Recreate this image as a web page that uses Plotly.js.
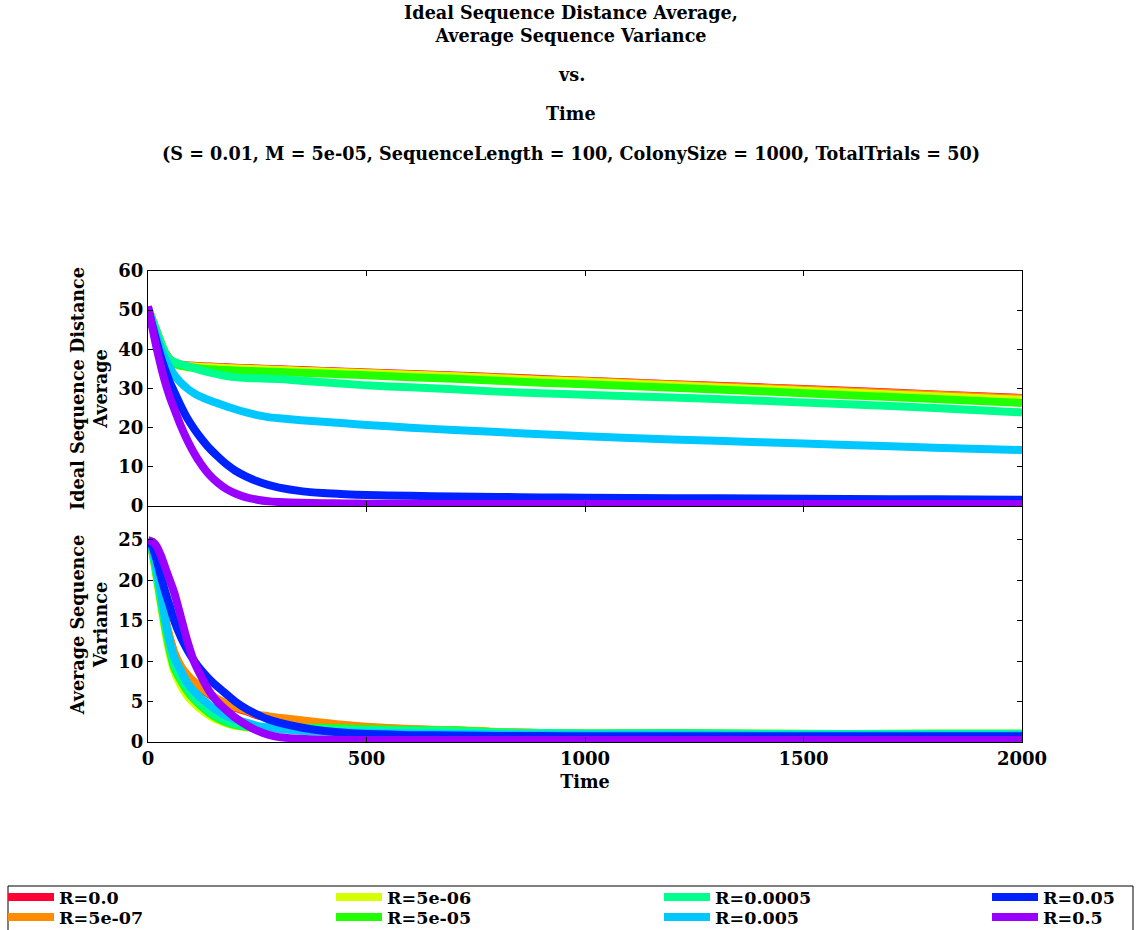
<!DOCTYPE html>
<html>
<head>
<meta charset="utf-8">
<script src="https://cdn.plot.ly/plotly-3.0.1.min.js"></script>
<style>
  html, body { margin: 0; padding: 0; background: #fff; }
  #chart { width: 1142px; height: 930px; }
</style>
</head>
<body>
<div id="chart"></div>
<script>
// Sample times shared by every series
const time = [0, 10, 20, 30, 40, 50, 60, 75, 90, 105, 120, 140, 160, 180, 200, 225, 250, 275, 300,
              350, 400, 450, 500, 600, 700, 800, 900, 1000, 1200, 1400, 1600, 1800, 2000];

const seriesNames = ['R=0.0', 'R=5e-07', 'R=5e-06', 'R=5e-05', 'R=0.0005', 'R=0.005', 'R=0.05', 'R=0.5'];
const seriesColors = ['#ff0035', '#ff8c00', '#d4ff00', '#22ff00', '#00ff8c', '#00c8ff', '#0022ff', '#9900ff'];

// Ideal sequence distance average, one list per recombination rate
const distR0     = [50.5,47.5,44.5,41.5,39.0,37.5,36.6,36.1,35.9,35.8,35.7,35.6,35.5,35.4,35.3,35.2,35.1,35.0,34.9,34.7,34.5,34.3,34.1,33.7,33.3,32.9,32.4,32.0,31.1,30.3,29.4,28.5,27.6];
const distR5e7   = [50.5,47.4,44.4,41.4,38.9,37.4,36.5,36.0,35.8,35.7,35.6,35.5,35.4,35.3,35.2,35.1,35.0,34.9,34.8,34.6,34.4,34.2,34.0,33.6,33.2,32.8,32.3,31.9,31.0,30.2,29.3,28.4,27.5];
const distR5e6   = [50.5,47.4,44.3,41.3,38.8,37.3,36.4,35.9,35.7,35.6,35.5,35.4,35.3,35.2,35.1,35.0,34.9,34.8,34.7,34.5,34.3,34.1,33.9,33.5,33.1,32.6,32.1,31.7,30.8,29.9,29.0,28.0,27.1];
const distR5e5   = [50.5,47.4,44.3,41.3,38.8,37.2,36.3,35.8,35.5,35.3,35.1,34.9,34.8,34.7,34.6,34.5,34.4,34.3,34.2,34.0,33.8,33.6,33.4,32.9,32.5,32.0,31.5,31.1,30.2,29.3,28.3,27.3,26.3];
const distR5e4   = [50.5,47.5,44.5,41.5,39.0,37.5,36.8,36.2,35.7,35.2,34.7,34.1,33.6,33.2,32.9,32.7,32.6,32.5,32.4,32.0,31.6,31.2,30.8,30.3,29.8,29.2,28.8,28.4,27.7,26.9,26.0,25.0,23.9];
const distR5e3   = [50.5,46.5,43.0,40.0,37.5,35.3,33.5,31.5,30.0,28.8,27.9,27.0,26.2,25.4,24.7,23.9,23.2,22.7,22.4,21.9,21.5,21.1,20.7,20.0,19.4,18.9,18.3,17.8,17.0,16.3,15.6,14.9,14.3];
const distR5e2   = [50.5,46.0,41.8,37.8,34.5,31.6,29.2,25.6,22.4,19.8,17.5,14.8,12.6,10.6,9.0,7.5,6.3,5.4,4.7,3.8,3.3,3.0,2.8,2.6,2.4,2.3,2.2,2.1,2.0,1.9,1.8,1.7,1.6];
const distR5e1   = [51.0,45.5,40.2,35.5,31.3,27.8,24.8,20.5,16.8,13.6,10.9,8.0,5.9,4.3,3.2,2.2,1.6,1.2,1.0,0.8,0.7,0.65,0.6,0.6,0.6,0.55,0.55,0.55,0.5,0.5,0.5,0.5,0.5];

// Average sequence variance, one list per recombination rate
const varR0      = [25,23.6,20.8,17.8,15.0,12.8,11.0,9.3,8.2,7.4,6.7,5.9,5.2,4.6,4.2,3.8,3.3,3.1,2.9,2.6,2.3,2.0,1.8,1.55,1.4,1.2,1.1,1.0,1.0,1.0,0.95,0.95,0.9];
const varR5e7    = [25,23.6,20.9,17.9,15.1,12.9,11.1,9.4,8.3,7.5,6.8,6.0,5.3,4.7,4.3,3.9,3.4,3.2,3.0,2.7,2.4,2.1,1.9,1.6,1.45,1.25,1.1,1.05,1.0,1.0,1.0,1.0,0.95];
const varR5e6    = [25,23.3,20.2,16.8,13.5,10.8,8.8,7.0,5.7,4.8,4.1,3.3,2.7,2.3,2.0,1.8,1.7,1.7,1.7,1.65,1.6,1.55,1.5,1.45,1.4,1.2,1.1,1.05,1.05,1.0,1.0,1.0,1.0];
const varR5e5    = [25,23.5,20.5,17.2,14.0,11.3,9.2,7.6,6.3,5.3,4.5,3.6,2.9,2.4,2.1,1.9,1.8,1.8,1.8,1.8,1.75,1.7,1.6,1.5,1.45,1.2,1.1,1.05,1.1,1.05,1.0,1.05,1.05];
const varR5e4    = [25,23.6,20.7,17.5,14.4,11.8,9.6,7.9,6.6,5.5,4.7,3.8,3.1,2.6,2.2,1.9,1.8,1.7,1.7,1.65,1.6,1.55,1.5,1.4,1.35,1.15,1.1,1.05,1.05,1.0,1.0,1.0,1.0];
const varR5e3    = [25,23.8,21.3,18.3,15.0,12.4,10.5,8.8,7.3,6.3,5.5,4.6,3.8,3.2,2.8,2.4,2.0,1.8,1.6,1.4,1.3,1.2,1.15,1.05,1.0,0.95,0.9,0.9,0.9,0.85,0.85,0.85,0.85];
const varR5e2    = [25,24.2,22.5,20.4,18.5,16.8,15.0,13.0,11.4,10.1,9.0,7.8,6.8,5.9,5.0,4.1,3.4,2.8,2.4,1.8,1.4,1.15,1.0,0.85,0.8,0.75,0.75,0.7,0.7,0.7,0.7,0.7,0.7];
const varR5e1    = [25,24.8,24.2,23.0,21.5,20.0,18.5,15.5,12.5,10.0,8.3,6.3,4.9,3.9,3.0,2.1,1.4,0.9,0.6,0.4,0.3,0.25,0.25,0.25,0.25,0.25,0.25,0.25,0.25,0.25,0.25,0.25,0.25];

const distSeries = [distR0, distR5e7, distR5e6, distR5e5, distR5e4, distR5e3, distR5e2, distR5e1];
const varSeries  = [varR0, varR5e7, varR5e6, varR5e5, varR5e4, varR5e3, varR5e2, varR5e1];

// Page and plot-area geometry (plot area spans 148..1022 px across, 271..742 px down)
const W = 1142, H = 930;
const L = 148, R = 120, T = 271, B = 188;
const plotW = W - L - R, plotH = H - T - B;
const px2paperX = px => (px - L) / plotW;
const py2paperY = py => (H - B - py) / plotH;

const FONT = 'DejaVu Serif';
const boldFont = (size) => ({ family: FONT, size: size, color: 'black', weight: 'bold' });

// Legend laid out column by column: four columns of two entries, one legend per entry
const legendKey = i => (i === 0 ? 'legend' : 'legend' + (i + 1));
const legendCols = [8, 336, 664, 992];
const legendRows = [897, 917];

const lineStyle = color => ({ color: color, width: 8, shape: 'spline', smoothing: 0.6 });

const traces = [];
seriesNames.forEach((name, i) => {
  traces.push({
    type: 'scatter', mode: 'lines', name: name,
    x: time, y: distSeries[i], xaxis: 'x', yaxis: 'y',
    line: lineStyle(seriesColors[i]),
    legend: legendKey(i),
    hoverinfo: 'skip'
  });
});
seriesNames.forEach((name, i) => {
  traces.push({
    type: 'scatter', mode: 'lines', name: name,
    x: time, y: varSeries[i], xaxis: 'x2', yaxis: 'y2',
    line: lineStyle(seriesColors[i]),
    showlegend: false,
    hoverinfo: 'skip'
  });
});

const axisCommon = {
  showline: true, linecolor: 'black', linewidth: 1, mirror: 'ticks',
  ticks: 'inside', ticklen: 5, tickwidth: 1, tickcolor: 'black',
  showgrid: false, zeroline: false, fixedrange: true,
  tickfont: boldFont(18)
};

const LEGEND_FONT = 17.5;
const legendItemHalf = (LEGEND_FONT * 1.3 + 3) / 2 + 5;

const layout = {
  width: W, height: H,
  margin: { l: L, r: R, t: T, b: B, autoexpand: false },
  paper_bgcolor: 'white', plot_bgcolor: 'white',
  font: boldFont(17.6),
  showlegend: true,
  title: {
    text: 'Ideal Sequence Distance Average,<br>Average Sequence Variance',
    x: 0.5, xref: 'container', xanchor: 'center',
    y: 1 - 19 / H, yref: 'container', yanchor: 'middle',
    font: boldFont(17.6)
  },
  annotations: [
    { text: 'vs.', xref: 'paper', yref: 'paper', x: px2paperX(571), y: py2paperY(74), showarrow: false, xanchor: 'center', yanchor: 'middle' },
    { text: 'Time', xref: 'paper', yref: 'paper', x: px2paperX(571), y: py2paperY(113), showarrow: false, xanchor: 'center', yanchor: 'middle' },
    { text: '(S = 0.01, M = 5e-05, SequenceLength = 100, ColonySize = 1000, TotalTrials = 50)',
      xref: 'paper', yref: 'paper', x: px2paperX(571), y: py2paperY(153), showarrow: false, xanchor: 'center', yanchor: 'middle' }
  ],
  shapes: [
    { type: 'rect', xref: 'paper', yref: 'paper', layer: 'above',
      x0: px2paperX(8), x1: px2paperX(1133), y0: py2paperY(886), y1: py2paperY(960),
      line: { color: 'black', width: 1 }, fillcolor: 'rgba(0,0,0,0)' }
  ],
  xaxis: Object.assign({}, axisCommon, {
    domain: [0, 1], anchor: 'y', range: [0, 2000], tick0: 0, dtick: 500, showticklabels: false
  }),
  yaxis: Object.assign({}, axisCommon, {
    domain: [py2paperY(506), 1], anchor: 'x', range: [0, 60], tick0: 0, dtick: 10,
    title: { text: 'Ideal Sequence Distance<br>Average', standoff: 6, font: boldFont(17.6) }
  }),
  xaxis2: Object.assign({}, axisCommon, {
    domain: [0, 1], anchor: 'y2', range: [0, 2000], tick0: 0, dtick: 500,
    title: { text: 'Time', standoff: 8, font: boldFont(17.6) }
  }),
  yaxis2: Object.assign({}, axisCommon, {
    domain: [0, py2paperY(507)], anchor: 'x2', range: [0, 29.08], tick0: 0, dtick: 5,
    title: { text: 'Average Sequence<br>Variance', standoff: 6, font: boldFont(17.6) }
  })
};

seriesNames.forEach((name, i) => {
  const col = Math.floor(i / 2), row = i % 2;
  layout[legendKey(i)] = {
    orientation: 'v',
    x: px2paperX(legendCols[col] - 5), xanchor: 'left',
    y: py2paperY(legendRows[row] - legendItemHalf), yanchor: 'top',
    bgcolor: 'rgba(0,0,0,0)', borderwidth: 0,
    itemwidth: 46,
    font: boldFont(LEGEND_FONT)
  };
});

Plotly.newPlot('chart', traces, layout, { displayModeBar: false, staticPlot: true });
</script>
</body>
</html>
